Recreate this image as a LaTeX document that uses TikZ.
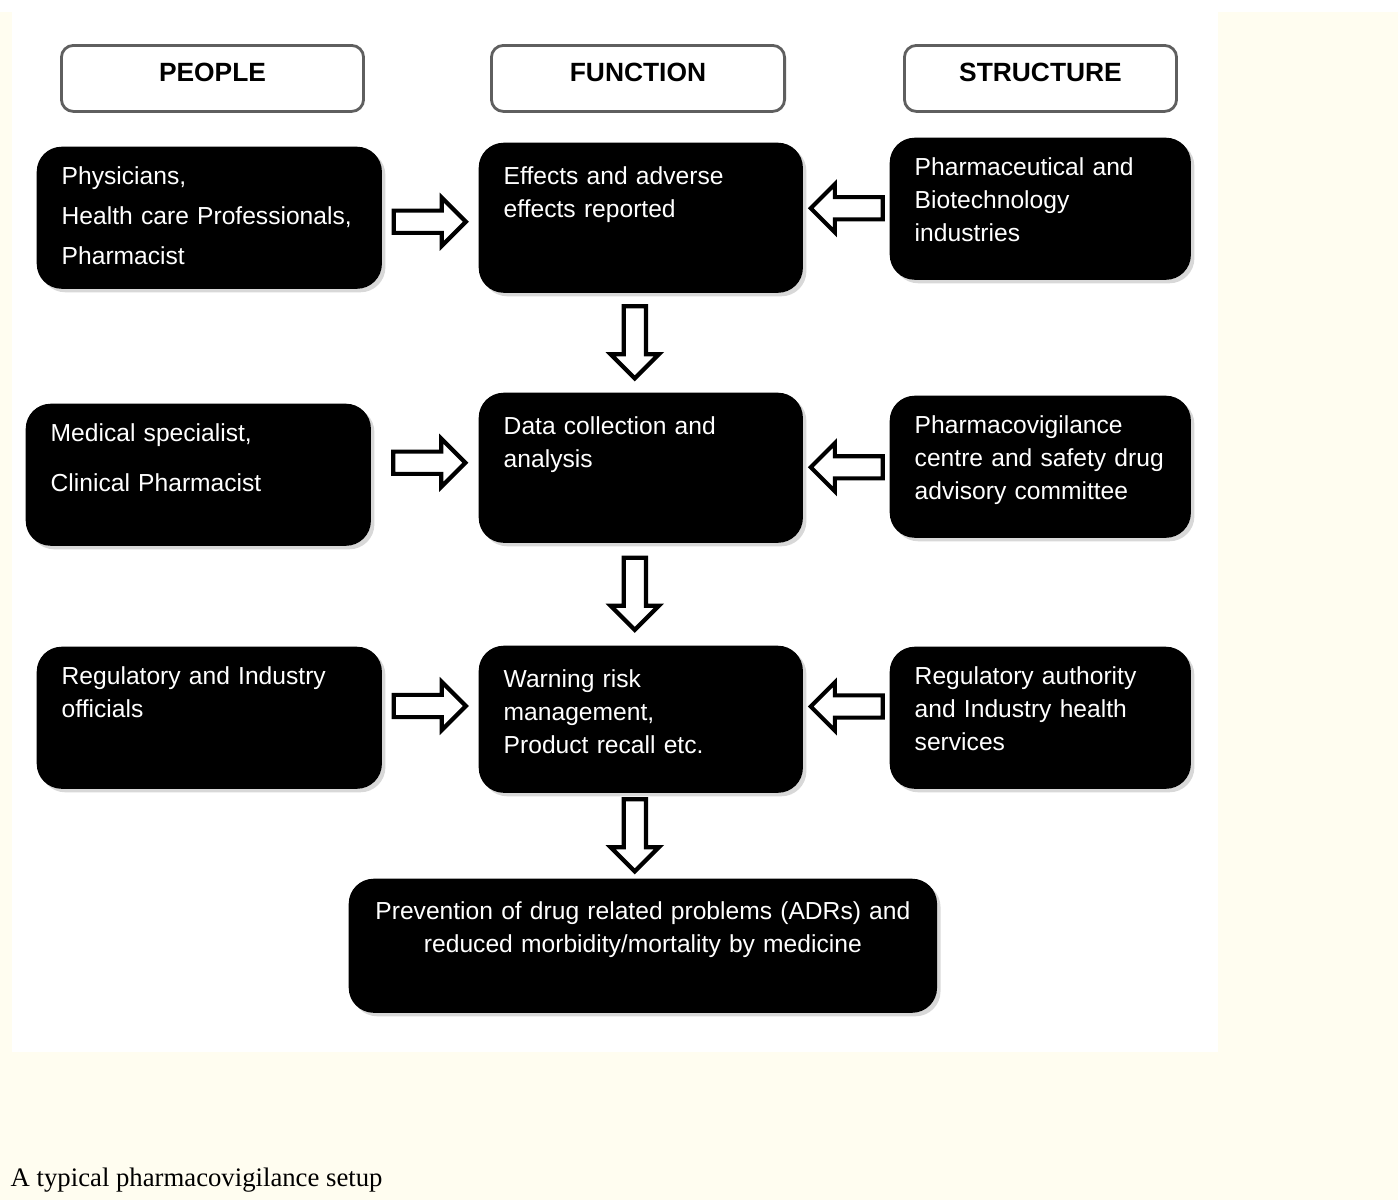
\documentclass[tikz,border=0pt]{standalone}
\usepackage{fontspec}
\setmainfont{Liberation Sans}
\newfontfamily\capfont{Liberation Serif}
\usetikzlibrary{positioning,shapes.arrows,shadows}
\definecolor{cream}{RGB}{255,253,240}
\definecolor{hdrgray}{RGB}{95,95,95}

\begin{document}
\begin{tikzpicture}[x=0.01cm, y=-0.01cm,
  hdr/.style={draw=hdrgray, line width=0.8pt, fill=white, rounded corners=0.12cm,
              anchor=north west, font=\fontsize{7.5}{9}\selectfont\bfseries,
              minimum height=0.66cm, text depth=0.12cm, inner sep=0pt},
  blk/.style={fill=black, text=white, rounded corners=0.25cm, anchor=north west,
              align=left, font=\fontsize{7}{9.4}\selectfont, inner xsep=0.25cm,
              inner ysep=0.2cm, text height=0.18cm, text depth=0.84cm,
              drop shadow={shadow xshift=0.035cm, shadow yshift=-0.035cm, opacity=0.3}},
  ppl/.style={blk, text width=2.95cm},
  fn/.style={blk, text width=2.74cm, inner ysep=0.24cm},
  str/.style={blk, text width=2.51cm},
  arr/.style={single arrow, draw, fill=white, line width=1.2pt, inner xsep=0pt,
              inner ysep=0.09cm, minimum height=0.72cm, single arrow head extend=0.13cm,
              single arrow tip angle=90, single arrow head indent=0pt,
              rotate=#1, xshift=-0.06cm},
  arr/.default=0]
% page
\fill[white] (0,0) rectangle (1398,1200);
\fill[cream] (0,12) rectangle (1398,1200);
\fill[white] (12,0) rectangle (1218,1052);
\useasboundingbox (0,0) rectangle (1398,1200);
% headers
\node[hdr, minimum width=3.02cm] (hp) at (60,44) {PEOPLE};
\node[hdr, minimum width=2.93cm] (hf) at (490,44) {FUNCTION};
\node[hdr, minimum width=2.72cm] (hs) at (903,44) {STRUCTURE};
% rows
\node[ppl] (p1) at (36,146) {Physicians,\\[1.9pt]Health care Professionals,\\[1.9pt]Pharmacist};
\node[fn] (f1) at (478,142) {Effects and adverse\\effects reported};
\node[str] (s1) at (889,137) {Pharmaceutical and\\Biotechnology\\industries};
\node[ppl] (p2) at (25,403) {Medical specialist,\\[4.8pt]Clinical Pharmacist};
\node[fn] (f2) at (478,392) {Data collection and\\analysis};
\node[str] (s2) at (889,395) {Pharmacovigilance\\centre and safety drug\\advisory committee};
\node[ppl] (p3) at (36,646) {Regulatory and Industry\\officials};
\node[fn, text depth=0.81cm] (f3) at (478,645) {Warning risk\\management,\\Product recall etc.};
\node[str] (s3) at (889,646) {Regulatory authority\\and Industry health\\services};
\node[blk, align=center, text width=5.5cm, inner xsep=0.19cm, inner ysep=0.23cm,
      text depth=0.70cm] (out) at (348,878)
  {Prevention of drug related problems (ADRs) and\\reduced morbidity/mortality by medicine};
% arrows
\path ([yshift=-0.04cm]p1.east) -- node[arr]{} ([yshift=-0.04cm]f1.west);
\path ([xshift=0.1cm, yshift=0.085cm]p2.east) -- node[arr]{} ([yshift=0.085cm]f2.west);
\path ([yshift=0.125cm]p3.east) -- node[arr]{} ([yshift=0.125cm]f3.west);
\path ([yshift=0.05cm]s1.west) -- node[arr=180]{} ([yshift=0.05cm]f1.east);
\path (s2.west) -- node[arr=180]{} (f2.east);
\path ([yshift=0.12cm]s3.west) -- node[arr=180]{} ([yshift=0.12cm]f3.east);
\path ([xshift=-0.06cm]f1.south) -- node[arr=-90]{} ([xshift=-0.06cm]f2.north);
\path ([xshift=-0.06cm]f2.south) -- node[arr=-90]{} ([xshift=-0.06cm]f3.north);
\path ([xshift=-0.06cm]f3.south) -- node[arr=-90]{} ([xshift=-0.06cm]out.north -| f3.south);
% caption
\node[anchor=base west, inner sep=0pt, font=\capfont\fontsize{7.6}{9}\selectfont] (cap) at (10,1186)
  {A typical pharmacovigilance setup};
\end{tikzpicture}
\end{document}
